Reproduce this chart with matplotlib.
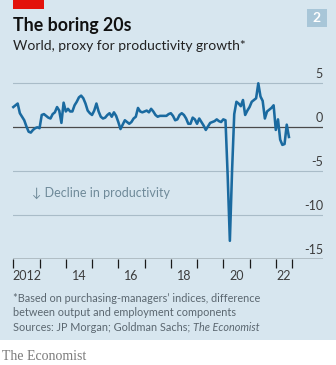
import matplotlib
matplotlib.use("Agg")
import matplotlib.pyplot as plt
from matplotlib.patches import Rectangle
import numpy as np

# Monthly proxy for productivity growth, Jan 2012 - Jul 2022
start_year = 2012
values = [
    2.3, 2.5, 2.7, 1.6, 1.2, 0.8, 0.1, -0.5, -0.6, -0.3, -0.1, 0.0,    # 2012
    -0.1, 1.4, 1.5, 1.3, 1.1, 1.0, 1.5, 1.7, 2.3, 1.9, 0.5, 2.8,       # 2013
    1.8, 2.1, 1.8, 1.8, 2.5, 2.9, 3.4, 3.6, 3.3, 2.7, 1.9, 1.6,        # 2014
    1.4, 1.9, 2.7, 1.8, 1.2, 1.0, 1.1, 1.4, 1.6, 1.2, 1.7, 1.3,        # 2015
    0.6, -0.2, 0.3, 0.8, 0.6, 0.4, 0.6, 1.0, 1.2, 2.2, 1.8, 1.7,       # 2016
    1.8, 1.9, 1.7, 2.1, 1.8, 1.4, 1.2, 1.3, 1.3, 1.3, 1.3, 1.5,        # 2017
    1.6, 1.3, 0.8, 0.9, 1.4, 1.6, 1.4, 1.0, 0.4, 0.4, 1.1, 0.9,        # 2018
    0.4, 1.0, 0.6, 0.2, -0.3, 0.1, 0.5, 0.6, 0.7, 0.9, 0.7, 0.6,       # 2019
    0.9, 0.8, -5.5, -12.9, -5.0, 1.5, 2.9, 2.7, 2.4, 3.1, 1.4, 1.9,    # 2020
    2.3, 2.9, 3.1, 3.3, 5.0, 3.5, 3.0, 1.0, 1.8, 2.0, 2.2, 2.5,        # 2021
    -0.3, 0.9, -1.4, -2.0, -1.9, 0.3, -1.1,                            # 2022
]
year_labels = ["2012", "14", "16", "18", "20", "22"]
label_years = [2012, 2014, 2016, 2018, 2020, 2022]
y_ticks = [5, 0, -5, -10, -15]

BG = "#d7e6ef"
LINE = "#1a6aa0"
GRID = "#a9bcc8"
DARK = "#3c3c3c"
GREY = "#5b6770"

W, H = 336, 365
fig = plt.figure(figsize=(W / 100, H / 100), dpi=100)
fig.patch.set_facecolor("white")

# Blue panel behind the chart
fig.patches.append(Rectangle((0, 1 - 340 / H), 1, 340 / H, transform=fig.transFigure,
                             facecolor=BG, edgecolor="none", zorder=0))
# Red tag at the top
fig.patches.append(Rectangle((13 / W, 1 - 9 / H), 31 / W, 9 / H, transform=fig.transFigure,
                             facecolor="#e3120b", edgecolor="none", zorder=1))
# Chart number box
fig.patches.append(Rectangle((307 / W, 1 - 27 / H), 20 / W, 18 / H, transform=fig.transFigure,
                             facecolor="#a8c6d8", edgecolor="none", zorder=1))
fig.text(317 / W, 1 - 18 / H, "2", ha="center", va="center", color="white",
         fontsize=10, fontweight="bold", family="Lato")

fig.text(13 / W, 1 - 25.5 / H, "The boring 20s", ha="left", va="center",
         fontsize=12.8, fontweight="bold", family="Lato", color="#111111")
fig.text(13 / W, 1 - 46 / H, "World, proxy for productivity growth*", ha="left",
         va="center", fontsize=10, family="Lato", color="#222222")

# Axes
left_px, right_px = 13.3, 323
bottom_px, top_px = 259.3, 70.1
ax = fig.add_axes([left_px / W, 1 - bottom_px / H, (right_px - left_px) / W,
                   (bottom_px - top_px) / H])
ax.set_zorder(5)
ax.set_facecolor("none")
x_max = start_year + (right_px - left_px) / 26.25
ax.set_xlim(start_year, x_max)
ax.set_ylim(-15, 5 + (83.3 - top_px) / 8.8)

x = start_year + np.arange(len(values)) / 12
ax.plot(x, values, color=LINE, lw=1.85, solid_joinstyle="round", zorder=3, clip_on=False)

for v in y_ticks:
    if v == 0:
        ax.axhline(v, color="#4a4a4a", lw=0.9, zorder=2)
    elif v == -15:
        ax.axhline(v, color="#1a1a1a", lw=1.0, zorder=2)
    else:
        ax.axhline(v, color=GRID, lw=0.8, zorder=1)
    ax.text(1.0, v + 0.35, f"{v}", transform=ax.get_yaxis_transform(),
            ha="right", va="bottom", fontsize=9, family="Lato", color=DARK)

for s in ax.spines.values():
    s.set_visible(False)
ax.set_yticks([])
x_end = start_year + (len(values) + 0.5) / 12
tick_pos = list(range(2012, 2023)) + [x_end]
ax.set_xticks(tick_pos)
ax.set_xticklabels([])
ax.tick_params(axis="x", length=6.5, width=0.9, color="#1a1a1a", direction="out")

for yr, lab in zip(label_years, year_labels):
    c = (yr + min(yr + 1, x_end)) / 2
    ax.text(c, -0.09, lab, transform=ax.get_xaxis_transform(), ha="center",
            va="center", fontsize=9, family="Lato", color=DARK)

ax.text(2012.7, -7.5, "\u2193 Decline in productivity", ha="left", va="center",
        fontsize=9, family=["Lato", "DejaVu Sans"], color="#6f8a99")

notes = ["*Based on purchasing-managers\u2019 indices, difference",
         "between output and employment components"]
fig.text(13 / W, 1 - 298 / H, notes[0], ha="left", va="center", fontsize=7.8,
         family="Lato", color=GREY)
fig.text(13 / W, 1 - 312.5 / H, notes[1], ha="left", va="center", fontsize=7.8,
         family="Lato", color=GREY)
t = fig.text(13 / W, 1 - 327.5 / H, "Sources: JP Morgan; Goldman Sachs; ", ha="left",
             va="center", fontsize=7.8, family="Lato", color=GREY)
fig.canvas.draw()
bb = t.get_window_extent()
fig.text(bb.x1 / W, 1 - 327.5 / H, "The Economist", ha="left", va="center",
         fontsize=7.8, family="Lato", style="italic", color=GREY)

fig.text(2 / W, 1 - 356 / H, "The Economist", ha="left", va="center", fontsize=10,
         family="Liberation Serif", color="#7a7a7a")

fig.savefig("out.png", dpi=100, facecolor=fig.get_facecolor())
